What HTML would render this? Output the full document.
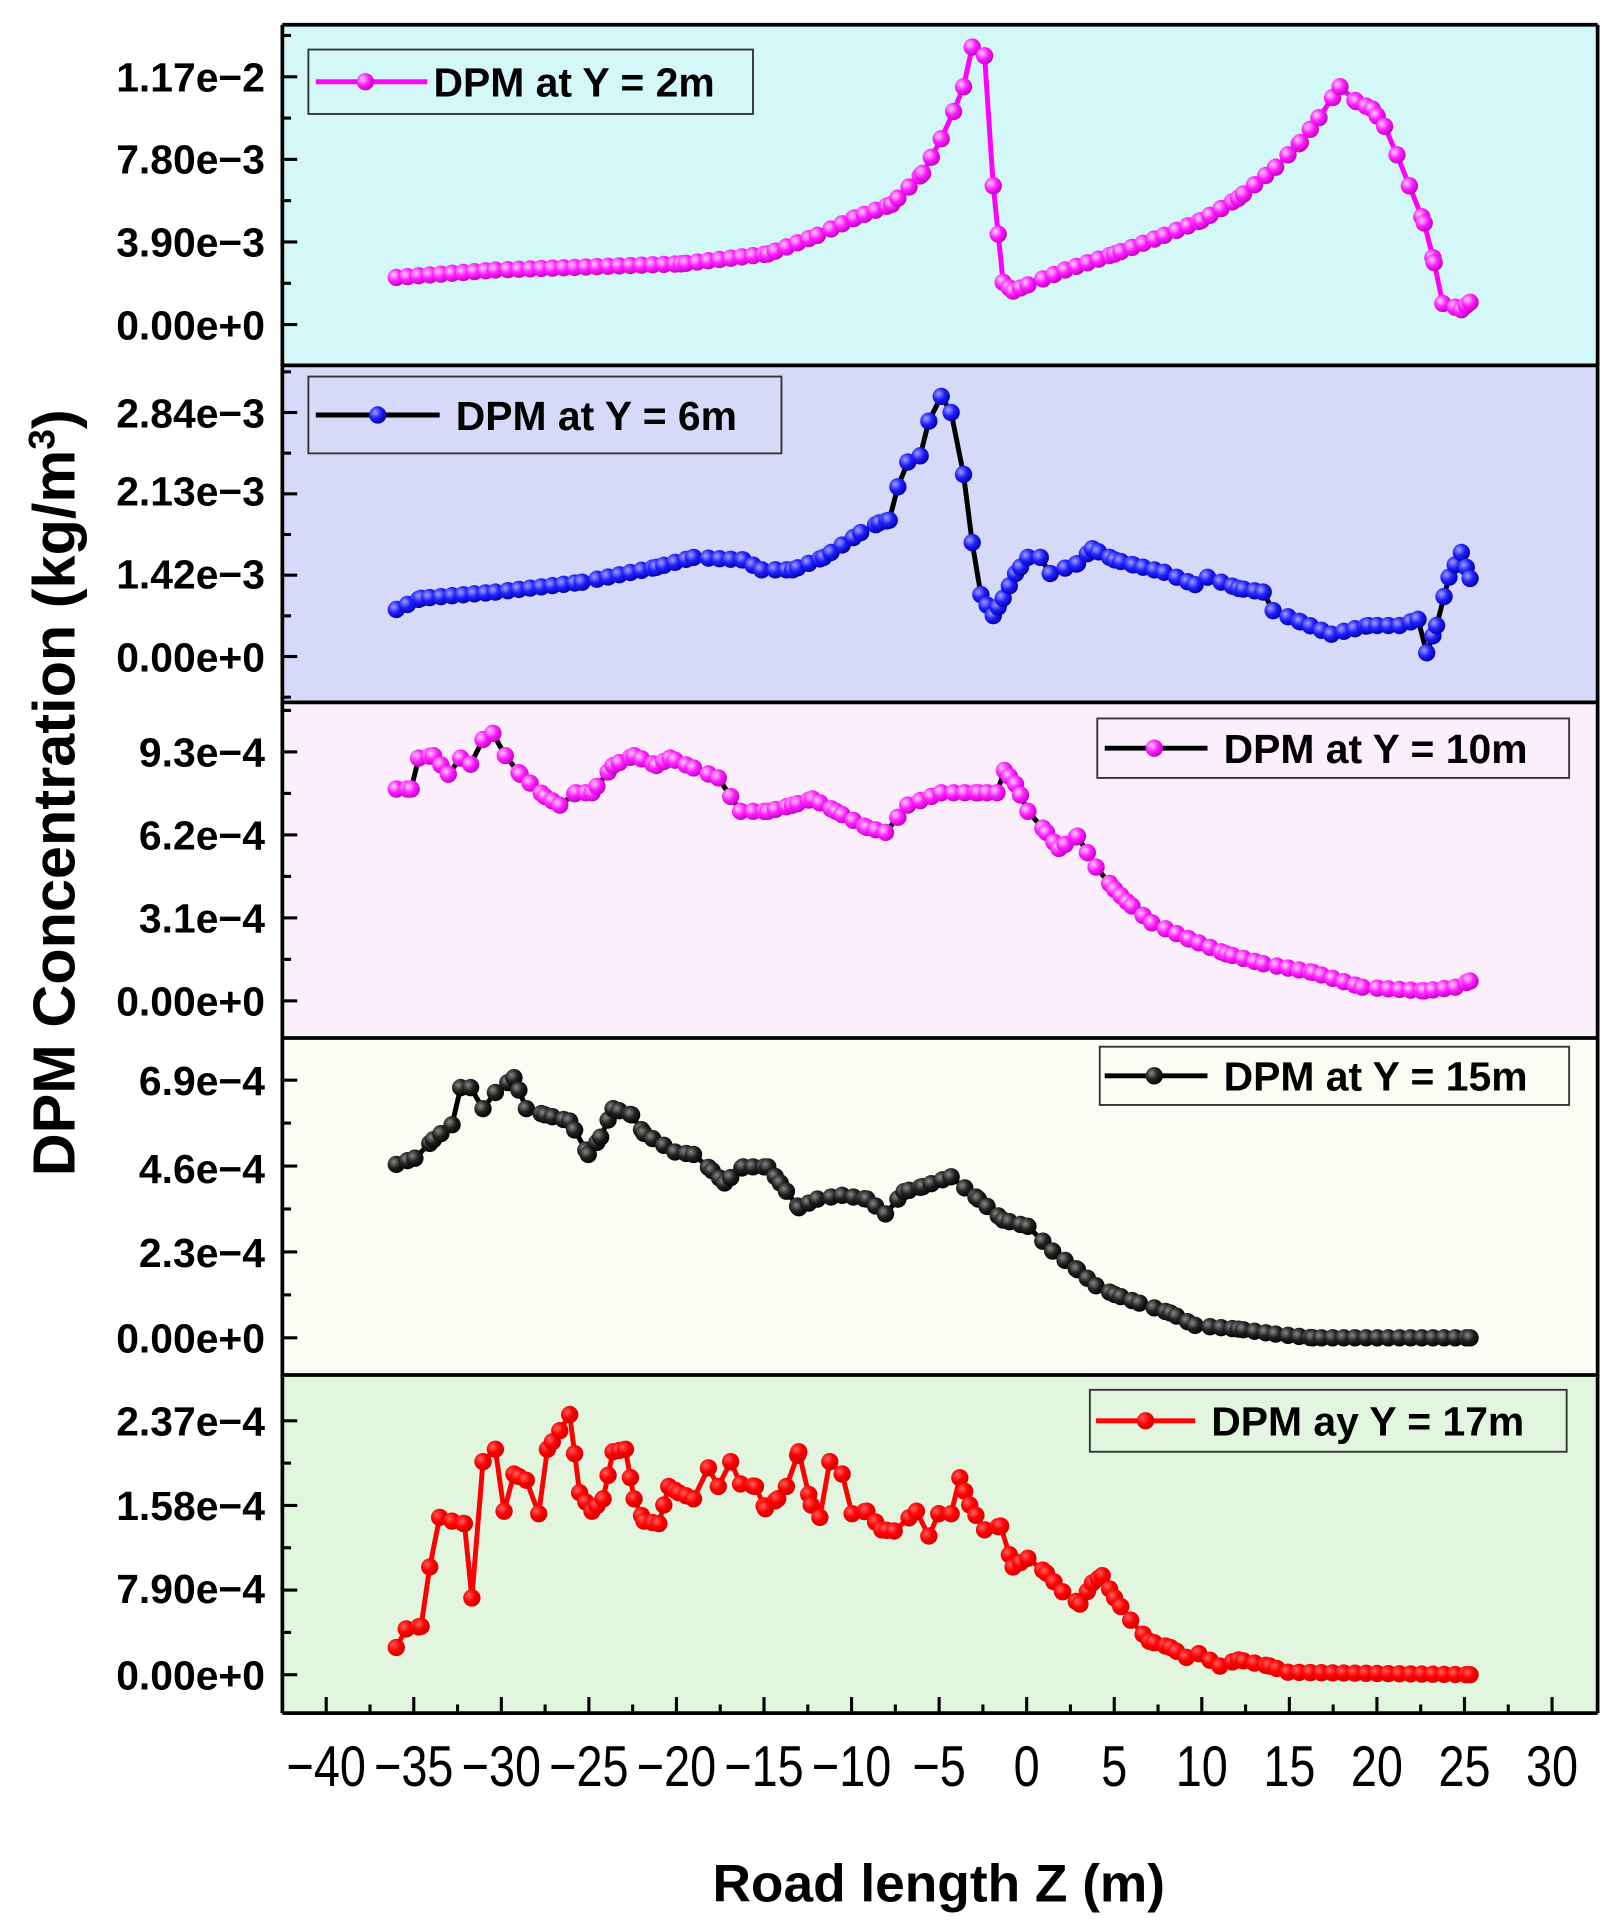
<!DOCTYPE html>
<html><head><meta charset="utf-8"><style>html,body{margin:0;padding:0;background:#fff}svg{display:block}</style></head>
<body>
<svg id="s" width="1610" height="1920" viewBox="0 0 1300 1550" preserveAspectRatio="none" xmlns="http://www.w3.org/2000/svg" font-family="Liberation Sans, Arial, sans-serif">
<defs>
<radialGradient id="gm" cx="0.35" cy="0.35" r="0.7"><stop offset="0" stop-color="#ffd0ff"/><stop offset="0.5" stop-color="#ff20ff"/><stop offset="1" stop-color="#c000c0"/></radialGradient>
<radialGradient id="gb" cx="0.35" cy="0.35" r="0.7"><stop offset="0" stop-color="#a0a0ff"/><stop offset="0.5" stop-color="#2020ff"/><stop offset="1" stop-color="#0000a0"/></radialGradient>
<radialGradient id="gk" cx="0.35" cy="0.35" r="0.7"><stop offset="0" stop-color="#888"/><stop offset="0.5" stop-color="#222"/><stop offset="1" stop-color="#000"/></radialGradient>
<radialGradient id="gr" cx="0.35" cy="0.35" r="0.7"><stop offset="0" stop-color="#ff6060"/><stop offset="0.5" stop-color="#ff0000"/><stop offset="1" stop-color="#d00000"/></radialGradient>
</defs>
<rect x="228" y="20" width="1062" height="275" fill="#d4f7f7"/>
<rect x="228" y="295" width="1062" height="272" fill="#d6d9f7"/>
<rect x="228" y="567" width="1062" height="271" fill="#fbeffb"/>
<rect x="228" y="838" width="1062" height="272" fill="#fbfcf3"/>
<rect x="228" y="1110" width="1062" height="273" fill="#e1f5df"/>
<g id="data"></g>
<g id="axes" stroke="#000" fill="none"></g>
<g id="txt" fill="#000"></g>
</svg>
<script>
const NS="http://www.w3.org/2000/svg";
function el(t,a,p){const e=document.createElementNS(NS,t);for(const k in a)e.setAttribute(k,a[k]);p.appendChild(e);return e;}
const D=document.getElementById('data'),A=document.getElementById('axes'),T=document.getElementById('txt');
const S=[
{c:'#ff00ff',l:'#ff00ff',g:'gm',k:[[320,224],[400,218],[550,213],[620,205],[660,190],[690,176],[720,165],[745,140],[760,112],[770,90],[778,70],[785,38],[795,45],[802,150],[810,228],[818,235],[830,230],[860,218],[900,205],[940,190],[970,178],[1000,160],[1030,135],[1050,115],[1065,95],[1082,70],[1095,82],[1108,88],[1118,102],[1128,125],[1138,150],[1150,180],[1158,212],[1165,245],[1175,248],[1180,250],[1187,244]]},
{c:'#1f1fff',l:'#000',g:'gb',k:[[320,492],[340,483],[400,478],[470,470],[530,458],[560,450],[600,452],[615,460],[640,460],[665,450],[680,440],[695,430],[710,422],[718,420],[725,393],[733,373],[743,368],[750,340],[760,320],[768,333],[778,383],[785,438],[792,480],[802,497],[810,483],[820,463],[830,450],[840,450],[848,463],[870,455],[882,443],[900,452],[915,456],[940,462],[965,472],[975,466],[1000,475],[1020,478],[1028,493],[1050,502],[1075,512],[1105,505],[1130,505],[1145,500],[1152,527],[1160,505],[1170,466],[1180,446],[1187,467]]},
{c:'#ff20ff',l:'#000',g:'gm',k:[[320,637],[332,637],[338,612],[350,610],[362,625],[372,612],[380,617],[390,597],[398,592],[408,610],[420,625],[440,643],[452,650],[465,640],[478,640],[495,618],[512,610],[530,618],[541,612],[560,620],[580,628],[598,655],[620,655],[640,650],[656,645],[675,655],[700,668],[715,672],[733,650],[760,640],[790,640],[805,640],[811,622],[820,633],[830,655],[845,672],[855,685],[870,675],[885,700],[900,718],[910,728],[930,745],[960,758],[990,770],[1020,778],[1060,785],[1100,797],[1150,800],[1175,797],[1187,792]]},
{c:'#111',l:'#000',g:'gk',k:[[320,940],[335,935],[350,920],[365,908],[372,878],[380,878],[390,895],[400,882],[415,870],[425,895],[440,900],[460,905],[475,932],[485,918],[495,895],[510,900],[520,915],[545,930],[560,932],[575,945],[585,955],[600,942],[620,942],[630,955],[645,975],[660,968],[680,965],[700,968],[715,980],[730,962],[745,958],[768,950],[790,968],[810,985],[830,990],[850,1010],[870,1025],[885,1038],[900,1045],[920,1052],[945,1060],[965,1070],[1000,1073],[1030,1077],[1060,1080],[1187,1080]]},
{c:'#ff0000',l:'#ff0000',g:'gr',k:[[320,1330],[328,1315],[340,1313],[347,1265],[355,1225],[365,1228],[375,1230],[381,1290],[390,1180],[400,1170],[407,1220],[415,1190],[425,1195],[435,1222],[442,1170],[452,1155],[460,1142],[468,1205],[478,1220],[487,1210],[495,1172],[505,1170],[512,1210],[520,1228],[532,1230],[540,1200],[548,1205],[560,1210],[572,1185],[580,1200],[590,1180],[598,1198],[610,1200],[618,1218],[628,1210],[635,1200],[645,1172],[655,1215],[662,1225],[670,1180],[680,1190],[688,1222],[700,1220],[712,1235],[722,1236],[740,1220],[750,1240],[758,1222],[768,1222],[775,1193],[783,1215],[795,1235],[808,1232],[818,1265],[830,1258],[845,1270],[858,1285],[872,1295],[882,1278],[890,1272],[900,1290],[913,1308],[928,1325],[945,1330],[958,1338],[968,1335],[985,1345],[1000,1340],[1025,1345],[1040,1350],[1187,1352]]}
];
function interp(k,x){for(let i=0;i<k.length-1;i++){if(x>=k[i][0]&&x<=k[i+1][0]){const t=(x-k[i][0])/(k[i+1][0]-k[i][0]);return k[i][1]+t*(k[i+1][1]-k[i][1]);}}return k[k.length-1][1];}
S.forEach(s=>{
 const pts=[];const xs=new Set();
 for(let x=320;x<=1187;x+=9)xs.add(x);
 s.k.forEach(p=>xs.add(p[0]));
 const arr=[...xs].sort((a,b)=>a-b);
 const f=[];arr.forEach(x=>{if(f.length&&x-f[f.length-1]<4&&!s.k.some(p=>p[0]===x))return;f.push(x);});
 f.forEach(x=>pts.push([x,interp(s.k,x)]));
 el('polyline',{points:pts.map(p=>p.join(',')).join(' '),fill:'none',stroke:s.l,'stroke-width':4,'stroke-linejoin':'round'},D);
 pts.forEach(p=>el('circle',{cx:p[0],cy:p[1],r:7,fill:'url(#'+s.g+')'},D));
});
[20,295,567,838,1110,1383].forEach(y=>el('line',{x1:228,x2:1290,y1:y,y2:y,'stroke-width':3},A));
el('line',{x1:228,x2:228,y1:20,y2:1383,'stroke-width':3},A);
el('line',{x1:1290,x2:1290,y1:20,y2:1383,'stroke-width':3},A);
const P=[
 {top:20,bot:295,t:[[62,'1.17e−2'],[128,'7.80e−3'],[195,'3.90e−3'],[262,'0.00e+0']]},
 {top:295,bot:567,t:[[333,'2.84e−3'],[396,'2.13e−3'],[463,'1.42e−3'],[530,'0.00e+0']]},
 {top:567,bot:838,t:[[607,'9.3e−4'],[674,'6.2e−4'],[741,'3.1e−4'],[808,'0.00e+0']]},
 {top:838,bot:1110,t:[[872,'6.9e−4'],[943,'4.6e−4'],[1011,'2.3e−4'],[1080,'0.00e+0']]},
 {top:1110,bot:1383,t:[[1147,'2.37e−4'],[1215,'1.58e−4'],[1282,'7.90e−4'],[1352,'0.00e+0']]}
];
P.forEach(p=>{
 const ys=p.t.map(t=>t[0]);const d=(ys[3]-ys[0])/3;
 for(let i=-3;i<=7;i++){const y=ys[0]+i*d/2;if(y<=p.top+3||y>=p.bot-3)continue;
  const maj=i%2===0;el('line',{x1:228,x2:228+(maj?12:7),y1:y,y2:y,'stroke-width':2.5},A);}
 p.t.forEach(t=>{const e=el('text',{x:214,y:t[0]+12,'text-anchor':'end','font-size':33,'font-weight':'bold'},T);e.textContent=t[1];});
});
for(let v=-40;v<=30;v+=2.5){const x=829+14.14*v;const maj=v%5===0;el('line',{x1:x,x2:x,y1:1383,y2:1383-(maj?13:7),'stroke-width':2.5},A);
 if(maj){const e=el('text',{x:0,y:0,'text-anchor':'middle','font-size':42,transform:'translate('+x+',1442) scale(0.9,1.1)'},T);e.textContent=v<0?'−'+(-v):''+v;}}
const L=[
 {x:249,y:40,w:359,h:52,lx1:255,lx2:345,mx:295,tx:350,t:'DPM at Y = 2m',s:0},
 {x:249,y:304,w:382,h:62,lx1:255,lx2:355,mx:305,tx:368,t:'DPM at Y = 6m',s:1},
 {x:886,y:580,w:381,h:48,lx1:892,lx2:975,mx:932,tx:988,t:'DPM at Y = 10m',s:2},
 {x:888,y:845,w:379,h:47,lx1:892,lx2:975,mx:932,tx:988,t:'DPM at Y = 15m',s:3},
 {x:880,y:1122,w:385,h:50,lx1:885,lx2:965,mx:925,tx:978,t:'DPM ay Y = 17m',s:4}
];
L.forEach(l=>{const s=S[l.s];const cy=l.y+l.h/2;
 el('rect',{x:l.x,y:l.y,width:l.w,height:l.h,fill:'none',stroke:'#333','stroke-width':1.5},A);
 el('line',{x1:l.lx1,x2:l.lx2,y1:cy,y2:cy,stroke:s.l,'stroke-width':4},D);
 el('circle',{cx:l.mx,cy:cy,r:7,fill:'url(#'+s.g+')'},D);
 const e=el('text',{x:l.tx,y:cy+12,'font-size':33,'font-weight':'bold'},T);e.textContent=l.t;});
let e=el('text',{x:758,y:1535,'text-anchor':'middle','font-size':43,'font-weight':'bold'},T);e.textContent='Road length Z (m)';
e=el('text',{x:0,y:0,'text-anchor':'middle','font-size':48,'font-weight':'bold',transform:'translate(60,640) rotate(-90)'},T);
e.innerHTML='DPM Concentration (kg/m<tspan dy="-16" font-size="30">3</tspan><tspan dy="16">)</tspan>';
</script>
</body></html>
